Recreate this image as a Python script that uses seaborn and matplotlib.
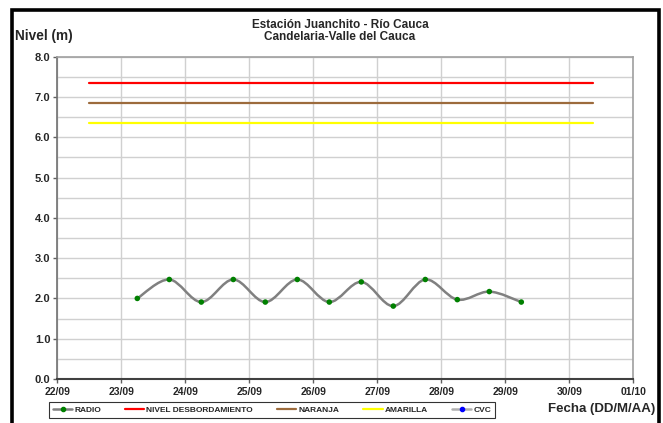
import matplotlib
matplotlib.use("Agg")
import matplotlib.pyplot as plt
import matplotlib.dates as mdates
from matplotlib.path import Path
from matplotlib.patches import PathPatch, Rectangle
from matplotlib.lines import Line2D
from matplotlib.ticker import MultipleLocator
import numpy as np
import pandas as pd
import seaborn as sns

# ---- data ----
radio_times = ["2010-09-23 06:00", "2010-09-23 18:00", "2010-09-24 06:00", "2010-09-24 18:00",
               "2010-09-25 06:00", "2010-09-25 18:00", "2010-09-26 06:00", "2010-09-26 18:00",
               "2010-09-27 06:00", "2010-09-27 18:00", "2010-09-28 06:00", "2010-09-28 18:00",
               "2010-09-29 06:00"]
radio_values = [2.00, 2.47, 1.91, 2.47, 1.91, 2.47, 1.91, 2.41, 1.81, 2.47, 1.97, 2.17, 1.91]

threshold_times = ["2010-09-22 12:00", "2010-09-30 09:00"]
nivel_desbordamiento = [7.35, 7.35]
naranja = [6.85, 6.85]
amarilla = [6.35, 6.35]

x_ticks = pd.date_range("2010-09-22", "2010-10-01", freq="D")
y_ticks = [0.0, 1.0, 2.0, 3.0, 4.0, 5.0, 6.0, 7.0, 8.0]

title = "Estación Juanchito - Río Cauca\nCandelaria-Valle del Cauca"

# ---- style ----
sns.set_theme(style="white")
plt.rcParams['font.family'] = ['Liberation Sans', 'DejaVu Sans']

fig = plt.figure(figsize=(6.63, 4.23), dpi=100)
ax = fig.add_axes([57.3 / 663, 1 - 379 / 423, (633.3 - 57.3) / 663, (379 - 56.7) / 423])

rt = pd.to_datetime(radio_times)
tt = pd.to_datetime(threshold_times)
thr = pd.DataFrame({"t": list(tt) * 3,
                    "v": nivel_desbordamiento + naranja + amarilla,
                    "s": ["NIVEL DESBORDAMIENTO"] * 2 + ["NARANJA"] * 2 + ["AMARILLA"] * 2})
thr_colors = {"NIVEL DESBORDAMIENTO": "#FF0000", "NARANJA": "#9C6B3C", "AMARILLA": "#FFFF00"}
sns.lineplot(data=thr, x="t", y="v", hue="s", palette=thr_colors, linewidth=1.6,
             legend=False, ax=ax, zorder=3)

# smoothed radio line (Excel-like Catmull-Rom bezier)
xs = mdates.date2num(rt)
ys = np.array(radio_values)
pts = np.column_stack([xs, ys])
verts = [pts[0]]
codes = [Path.MOVETO]
n = len(pts)
for i in range(n - 1):
    p0 = pts[i - 1] if i > 0 else pts[i]
    p1 = pts[i]
    p2 = pts[i + 1]
    p3 = pts[i + 2] if i + 2 < n else pts[i + 1]
    c1 = p1 + (p2 - p0) / 6
    c2 = p2 - (p3 - p1) / 6
    verts += [c1, c2, p2]
    codes += [Path.CURVE4] * 3
ax.add_patch(PathPatch(Path(verts, codes), facecolor="none", edgecolor="#808080",
                       linewidth=1.8, zorder=4))
sns.scatterplot(x=rt, y=radio_values, color="#008000", s=16, edgecolor="none", ax=ax, zorder=5)

# ---- axes ----
ax.set_xlim(x_ticks[0], x_ticks[-1])
ax.set_ylim(0, 8)
ax.set_xticks(x_ticks)
ax.xaxis.set_major_formatter(mdates.DateFormatter("%d/%m"))
ax.set_yticks(y_ticks)
ax.set_yticklabels([f"{v:.1f}" for v in y_ticks])
ax.yaxis.set_minor_locator(MultipleLocator(0.5))
ax.grid(True, which="major", axis="x", color="#d0d0d0", linewidth=1.0)
ax.grid(True, which="both", axis="y", color="#d0d0d0", linewidth=1.0)
ax.set_axisbelow(True)
ax.set_xlabel("")
ax.set_ylabel("")
for lab in ax.get_xticklabels() + ax.get_yticklabels():
    lab.set_fontweight("bold")
ax.tick_params(axis="x", labelsize=7.5, length=3, width=1, color="#606060", pad=2.5, direction="out", bottom=True)
ax.tick_params(axis="y", which="major", labelsize=8, length=3, width=1, color="#606060", pad=2, direction="out", left=True)
ax.tick_params(axis="y", which="minor", length=0)
for side in ["top", "right"]:
    ax.spines[side].set_color("#a0a0a0")
    ax.spines[side].set_linewidth(1.2)
ax.spines["left"].set_color("#707070")
ax.spines["left"].set_linewidth(1.2)
ax.spines["bottom"].set_color("#404040")
ax.spines["bottom"].set_linewidth(1.5)

# ---- texts ----
fig.text(340 / 663, 1 - 31 / 423, title, ha="center", va="center", fontsize=8.5,
         fontweight="bold", linespacing=1.08)
fig.text(15 / 663, 1 - 36 / 423, "Nivel (m)", ha="left", va="center", fontsize=9.8, fontweight="bold")
fig.text(655 / 663, 1 - 409 / 423, "Fecha (DD/M/AA)", ha="right", va="center", fontsize=9.5,
         fontweight="bold")

# ---- legend ----
handles = [
    Line2D([], [], color="#808080", linewidth=1.8, marker="o", markersize=3,
           markerfacecolor="#008000", markeredgecolor="#008000"),
    Line2D([], [], color="#FF0000", linewidth=1.6),
    Line2D([], [], color="#9C6B3C", linewidth=1.6),
    Line2D([], [], color="#FFFF00", linewidth=1.6),
    Line2D([], [], color="#b0b0b0", linewidth=1.8, marker="o", markersize=3,
           markerfacecolor="#0000FF", markeredgecolor="#0000FF"),
]
labels = ["RADIO", "NIVEL DESBORDAMIENTO", "NARANJA", "AMARILLA", "CVC"]
leg = fig.legend(handles, labels, loc="center", bbox_to_anchor=(272 / 663, 1 - 410 / 423),
                 ncol=5, frameon=True, fancybox=False, edgecolor="black",
                 prop={"size": 6, "weight": "bold"}, handlelength=2.3, handletextpad=0.25,
                 columnspacing=2.9, borderpad=0.45)
leg.get_frame().set_linewidth(0.8)

# ---- outer frame ----
fig.patches.append(Rectangle((11.5 / 663, -0.05), (659 - 11.5) / 663, 1.05 - 10.5 / 423,
                             transform=fig.transFigure, fill=False, edgecolor="black",
                             linewidth=2.6, zorder=10))

fig.savefig("out.png", dpi=100)
